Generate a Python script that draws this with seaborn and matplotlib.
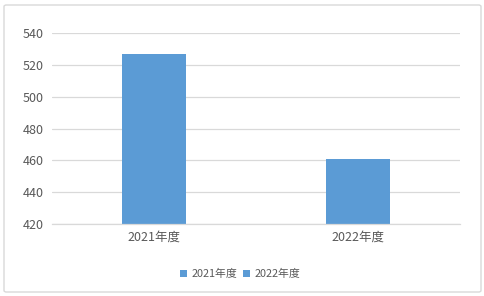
import matplotlib
matplotlib.use("Agg")
import matplotlib.pyplot as plt
import seaborn as sns
import pandas as pd
from matplotlib.patches import FancyBboxPatch, Patch

categories = ["2021年度", "2022年度"]
values = [527, 461]
yticks = [420, 440, 460, 480, 500, 520, 540]

sns.set_theme(style="white")
plt.rcParams['font.family'] = ['Noto Sans CJK SC', 'DejaVu Sans']

color = "#5B9BD5"
text_color = "#595959"

fig = plt.figure(figsize=(4.85, 2.96), dpi=100)
ax = fig.add_axes([52/485, 1-224/296, 408/485, 190.7/296])

df = pd.DataFrame({"cat": categories, "val": values})
sns.barplot(data=df, x="cat", y="val", hue="cat", palette=[color, color],
            width=0.315, dodge=False, ax=ax, legend=False, saturation=1,
            linewidth=0, edgecolor="none")

ax.set_ylim(420, 540)
ax.set_yticks(yticks)
ax.set_xlim(-0.5, 1.5)
ax.yaxis.grid(True, color="#D9D9D9", linewidth=0.9)
ax.set_axisbelow(True)
for s in ["top", "right", "left"]:
    ax.spines[s].set_visible(False)
ax.spines["bottom"].set_color("#D9D9D9")
ax.spines["bottom"].set_linewidth(0.9)
ax.set_xlabel("")
ax.set_ylabel("")
ax.tick_params(axis="both", length=0, labelsize=9, labelcolor=text_color)
ax.tick_params(axis="y", pad=6)
ax.tick_params(axis="x", pad=5)

handles = [Patch(facecolor=color, edgecolor="none") for _ in categories]
fig.legend(handles, categories, loc="center", bbox_to_anchor=(240/485, 1-274/296),
           ncol=2, frameon=False, fontsize=7.8, handlelength=0.7, handleheight=0.7,
           handletextpad=0.4, columnspacing=0.5, labelcolor=text_color)

border = FancyBboxPatch((4/485, 4/296), 477/485, 287/296, boxstyle="round,pad=0,rounding_size=0.005",
                        transform=fig.transFigure, facecolor="none", edgecolor="#D9D9D9", linewidth=1)
fig.patches.append(border)

fig.savefig("out.png", dpi=100)
